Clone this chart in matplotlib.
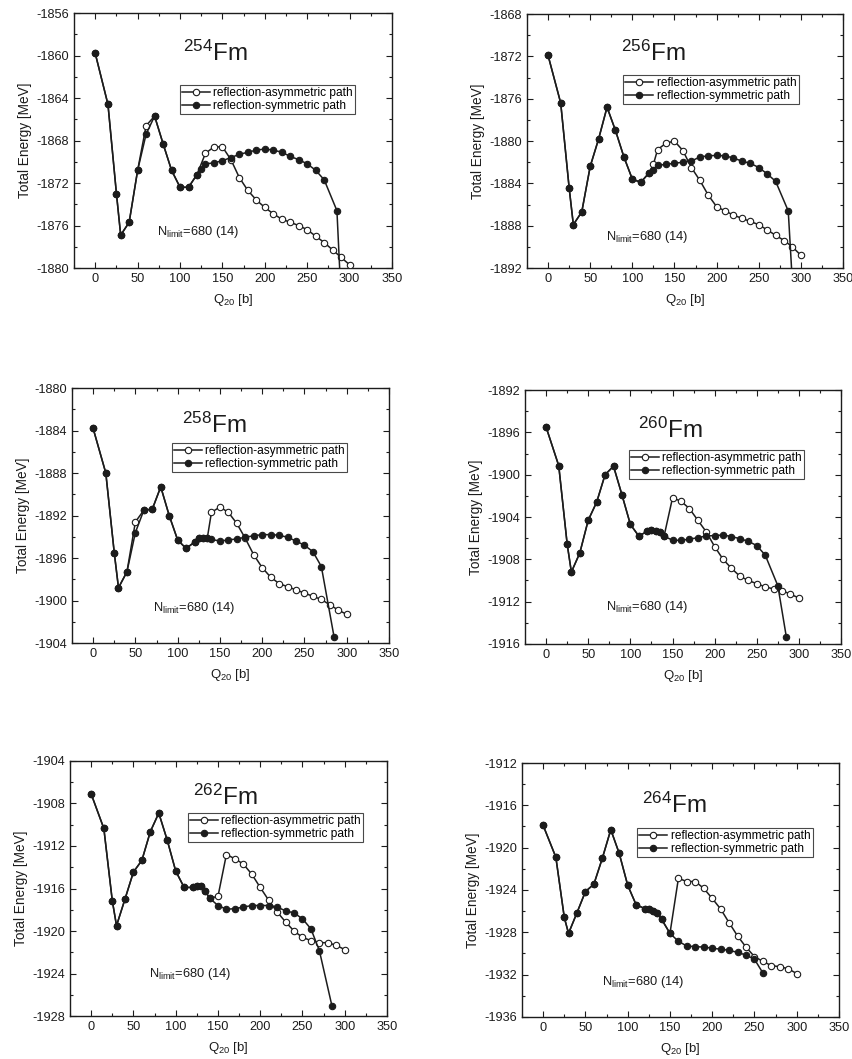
import matplotlib.pyplot as plt
from matplotlib.ticker import MultipleLocator

plt.rcParams['font.family'] = ['Liberation Sans', 'DejaVu Sans']
plt.rcParams['mathtext.fontset'] = 'custom'
plt.rcParams['mathtext.rm'] = 'Liberation Sans'
plt.rcParams['mathtext.it'] = 'Liberation Sans:italic'
plt.rcParams['mathtext.bf'] = 'Liberation Sans:bold'
plt.rcParams['axes.unicode_minus'] = False

# ---- data: Q20 [b] and total energy [MeV] ----
# 254Fm
q254_s = [0, 15, 25, 30, 40, 50, 60, 70, 80, 90, 100, 110, 120, 125, 130,
          140, 150, 160, 170, 180, 190, 200, 210, 220, 230, 240, 250, 260, 270, 285, 290]
e254_s = [-1859.8, -1864.6, -1873.0, -1876.9, -1875.7, -1870.8, -1867.4, -1865.7, -1868.3,
          -1870.8, -1872.4, -1872.4, -1871.2, -1870.7, -1870.2,
          -1870.1, -1869.9, -1869.6, -1869.3, -1869.1, -1868.9, -1868.8, -1868.9, -1869.1,
          -1869.5, -1869.8, -1870.2, -1870.8, -1871.7, -1874.6, -1883.0]
q254_a = [0, 15, 25, 30, 40, 50, 60, 70, 80, 90, 100, 110, 120,
          130, 140, 150, 160, 170, 180, 190, 200, 210, 220, 230, 240, 250, 260, 270, 280, 290, 300]
e254_a = [-1859.8, -1864.6, -1873.0, -1876.9, -1875.7, -1870.8, -1866.6, -1865.7, -1868.3,
          -1870.8, -1872.4, -1872.4, -1871.2,
          -1869.2, -1868.6, -1868.6, -1869.8, -1871.5, -1872.7, -1873.6, -1874.3, -1874.9,
          -1875.4, -1875.7, -1876.0, -1876.4, -1877.0, -1877.6, -1878.3, -1879.0, -1879.7]

# 256Fm
q256_s = [0, 15, 25, 30, 40, 50, 60, 70, 80, 90, 100, 110, 120, 125, 130,
          140, 150, 160, 170, 180, 190, 200, 210, 220, 230, 240, 250, 260, 270, 285, 290]
e256_s = [-1871.9, -1876.4, -1884.4, -1887.9, -1886.7, -1882.4, -1879.8, -1876.8, -1879.0,
          -1881.5, -1883.6, -1883.9, -1883.0, -1882.7, -1882.3,
          -1882.2, -1882.1, -1882.0, -1881.9, -1881.5, -1881.4, -1881.35, -1881.4, -1881.6,
          -1881.9, -1882.1, -1882.5, -1883.1, -1883.8, -1886.6, -1893.5]
q256_a = [0, 15, 25, 30, 40, 50, 60, 70, 80, 90, 100, 110, 120, 125,
          130, 140, 150, 160, 170, 180, 190, 200, 210, 220, 230, 240, 250, 260, 270, 280, 290, 300]
e256_a = [-1871.9, -1876.4, -1884.4, -1887.9, -1886.7, -1882.4, -1879.8, -1876.8, -1879.0,
          -1881.5, -1883.6, -1883.9, -1883.0, -1882.2,
          -1880.8, -1880.2, -1880.0, -1880.9, -1882.5, -1883.7, -1885.1, -1886.2, -1886.6,
          -1887.0, -1887.3, -1887.6, -1887.9, -1888.4, -1888.9, -1889.4, -1890.0, -1890.8]

# 258Fm
q258_s = [0, 15, 25, 30, 40, 50, 60, 70, 80, 90, 100, 110, 120, 125, 130, 135, 140,
          150, 160, 170, 180, 190, 200, 210, 220, 230, 240, 250, 260, 270, 285]
e258_s = [-1883.8, -1888.0, -1895.5, -1898.8, -1897.3, -1893.6, -1891.5, -1891.4, -1889.3,
          -1892.0, -1894.3, -1895.1, -1894.5, -1894.1, -1894.1, -1894.15, -1894.25,
          -1894.4, -1894.3, -1894.2, -1894.05, -1893.9, -1893.8, -1893.8, -1893.85, -1894.05,
          -1894.4, -1894.8, -1895.4, -1896.8, -1903.4]
q258_a = [0, 15, 25, 30, 40, 50, 60, 70, 80, 90, 100, 110, 120, 125, 130, 135,
          140, 150, 160, 170, 180, 190, 200, 210, 220, 230, 240, 250, 260, 270, 280, 290, 300]
e258_a = [-1883.8, -1888.0, -1895.5, -1898.8, -1897.3, -1892.6, -1891.5, -1891.4, -1889.3,
          -1892.0, -1894.3, -1895.1, -1894.5, -1894.1, -1894.1, -1894.15,
          -1891.7, -1891.2, -1891.7, -1892.75, -1894.15, -1895.7, -1896.9, -1897.8, -1898.4,
          -1898.7, -1899.0, -1899.3, -1899.6, -1899.9, -1900.4, -1900.9, -1901.3]

# 260Fm
q260_s = [0, 15, 25, 30, 40, 50, 60, 70, 80, 90, 100, 110, 120, 125, 130, 135, 140,
          150, 160, 170, 180, 190, 200, 210, 220, 230, 240, 250, 260, 275, 285]
e260_s = [-1895.5, -1899.15, -1906.55, -1909.2, -1907.4, -1904.3, -1902.6, -1900.0, -1899.2,
          -1901.9, -1904.7, -1905.8, -1905.35, -1905.2, -1905.3, -1905.4, -1905.8,
          -1906.2, -1906.2, -1906.1, -1905.95, -1905.8, -1905.75, -1905.7, -1905.85, -1906.05,
          -1906.3, -1906.7, -1907.6, -1910.5, -1915.3]
q260_a = [0, 15, 25, 30, 40, 50, 60, 70, 80, 90, 100, 110, 120, 125, 130, 135, 140,
          150, 160, 170, 180, 190, 200, 210, 220, 230, 240, 250, 260, 270, 280, 290, 300]
e260_a = [-1895.5, -1899.15, -1906.55, -1909.2, -1907.4, -1904.3, -1902.6, -1900.0, -1899.2,
          -1901.9, -1904.7, -1905.8, -1905.35, -1905.2, -1905.3, -1905.4, -1905.8,
          -1902.2, -1902.5, -1903.2, -1904.3, -1905.4, -1906.8, -1908.0, -1908.85, -1909.6,
          -1910.0, -1910.3, -1910.6, -1910.8, -1910.95, -1911.3, -1911.65]

# 262Fm
q262_s = [0, 15, 25, 30, 40, 50, 60, 70, 80, 90, 100, 110, 120, 125, 130, 135, 140,
          150, 160, 170, 180, 190, 200, 210, 220, 230, 240, 250, 260, 270, 285]
e262_s = [-1907.1, -1910.35, -1917.15, -1919.5, -1917.0, -1914.45, -1913.35, -1910.65, -1908.9,
          -1911.45, -1914.35, -1915.9, -1915.9, -1915.8, -1915.8, -1916.25, -1916.9,
          -1917.6, -1917.95, -1917.9, -1917.75, -1917.6, -1917.6, -1917.6, -1917.75, -1918.1,
          -1918.3, -1918.85, -1919.8, -1921.85, -1927.1]
q262_a = [0, 15, 25, 30, 40, 50, 60, 70, 80, 90, 100, 110, 120, 125, 130, 135, 140,
          150, 160, 170, 180, 190, 200, 210, 220, 230, 240, 250, 260, 270, 280, 290, 300]
e262_a = [-1907.1, -1910.35, -1917.15, -1919.5, -1917.0, -1914.45, -1913.35, -1910.65, -1908.9,
          -1911.45, -1914.35, -1915.9, -1915.9, -1915.8, -1915.8, -1916.25, -1916.9,
          -1916.75, -1912.8, -1913.2, -1913.7, -1914.65, -1915.9, -1917.1, -1918.2, -1919.15,
          -1920.0, -1920.6, -1920.9, -1921.1, -1921.1, -1921.35, -1921.75]

# 264Fm
q264_s = [0, 15, 25, 30, 40, 50, 60, 70, 80, 90, 100, 110, 120, 125, 130, 135, 140,
          150, 160, 170, 180, 190, 200, 210, 220, 230, 240, 250, 260]
e264_s = [-1917.9, -1920.9, -1926.6, -1928.1, -1926.15, -1924.15, -1923.45, -1921.0, -1918.3,
          -1920.55, -1923.55, -1925.4, -1925.75, -1925.8, -1925.95, -1926.15, -1926.75,
          -1928.1, -1928.85, -1929.3, -1929.35, -1929.4, -1929.5, -1929.6, -1929.7, -1929.9,
          -1930.15, -1930.55, -1931.85]
q264_a = [0, 15, 25, 30, 40, 50, 60, 70, 80, 90, 100, 110, 120, 125, 130, 135, 140, 150,
          160, 170, 180, 190, 200, 210, 220, 230, 240, 250, 260, 270, 280, 290, 300]
e264_a = [-1917.9, -1920.9, -1926.6, -1928.1, -1926.15, -1924.15, -1923.45, -1921.0, -1918.3,
          -1920.55, -1923.55, -1925.4, -1925.75, -1925.8, -1925.95, -1926.15, -1926.75, -1928.1,
          -1922.9, -1923.2, -1923.2, -1923.85, -1924.8, -1925.8, -1927.1, -1928.35, -1929.4,
          -1930.3, -1930.75, -1931.15, -1931.25, -1931.45, -1931.9]

nuclei = ['254', '256', '258', '260', '262', '264']
y_bottom = [-1880, -1892, -1904, -1916, -1928, -1936]

# ---- layout (figure fractions) and annotation spots (axes fractions) ----
axes_pos = [[0.0868, 0.7469, 0.3728, 0.2408], [0.6178, 0.7469, 0.3705, 0.2398],
            [0.0844, 0.3928, 0.3716, 0.2408], [0.6155, 0.3919, 0.3705, 0.2398],
            [0.0821, 0.0406, 0.3716, 0.2408], [0.6120, 0.0397, 0.3716, 0.2398]]
title_xy = [(0.443, 0.843), (0.40, 0.846), (0.448, 0.855),
            (0.46, 0.843), (0.49, 0.859), (0.48, 0.835)]
legend_xy = [(0.333, 0.718), (0.304, 0.76), (0.315, 0.784),
             (0.329, 0.764), (0.372, 0.796), (0.363, 0.744)]
nlim_xy = [(0.26, 0.141), (0.25, 0.122), (0.255, 0.137),
           (0.256, 0.146), (0.25, 0.165), (0.252, 0.138)]

series = [(q254_a, e254_a, q254_s, e254_s), (q256_a, e256_a, q256_s, e256_s),
          (q258_a, e258_a, q258_s, e258_s), (q260_a, e260_a, q260_s, e260_s),
          (q262_a, e262_a, q262_s, e262_s), (q264_a, e264_a, q264_s, e264_s)]

ink = '#1c1c1c'
fig = plt.figure(figsize=(8.53, 10.59), dpi=100)

for i, (qa, ea, qs, es) in enumerate(series):
    ax = fig.add_axes(axes_pos[i])
    ax.plot(qa, ea, '-o', color=ink, lw=1.1, ms=4.6, mfc='white', mec=ink, mew=0.8,
            label='reflection-asymmetric path', zorder=3)
    ax.plot(qs, es, '-o', color=ink, lw=1.1, ms=4.6, mfc=ink, mec=ink, mew=0.8,
            label='reflection-symmetric path', zorder=4)

    ax.set_xlim(-25, 350)
    ax.set_ylim(y_bottom[i], y_bottom[i] + 24)
    ax.xaxis.set_major_locator(MultipleLocator(50))
    ax.xaxis.set_minor_locator(MultipleLocator(25))
    ax.yaxis.set_major_locator(MultipleLocator(4))
    ax.yaxis.set_minor_locator(MultipleLocator(2))
    ax.tick_params(which='both', direction='in', top=True, right=True,
                   width=0.8, color=ink, labelsize=9.2, labelcolor=ink)
    ax.tick_params(which='major', length=4)
    ax.tick_params(which='minor', length=2.2)
    for sp in ax.spines.values():
        sp.set_linewidth(1.0)
        sp.set_color(ink)

    ax.set_xlabel(r'Q$_{20}$ [b]', fontsize=9.5, color=ink, labelpad=5)
    ax.set_ylabel('Total Energy [MeV]', fontsize=9.8, color=ink, labelpad=3)

    ax.text(title_xy[i][0], title_xy[i][1], r'$^{%s}$Fm' % nuclei[i], transform=ax.transAxes,
            ha='center', va='center', fontsize=17.5, color=ink)
    ax.text(nlim_xy[i][0], nlim_xy[i][1], r'N$_{\mathregular{limit}}$=680 (14)',
            transform=ax.transAxes, ha='left', va='center', fontsize=9.3, color=ink)

    leg = ax.legend(loc='upper left', bbox_to_anchor=legend_xy[i], borderaxespad=0,
                    fontsize=8.6, frameon=True, fancybox=False, edgecolor=ink,
                    handlelength=2.3, handletextpad=0.3, labelspacing=0.05,
                    borderpad=0.2, numpoints=1)
    leg.get_frame().set_linewidth(0.8)
    leg.set_zorder(6)

fig.savefig('out.png', dpi=100, facecolor='white')
